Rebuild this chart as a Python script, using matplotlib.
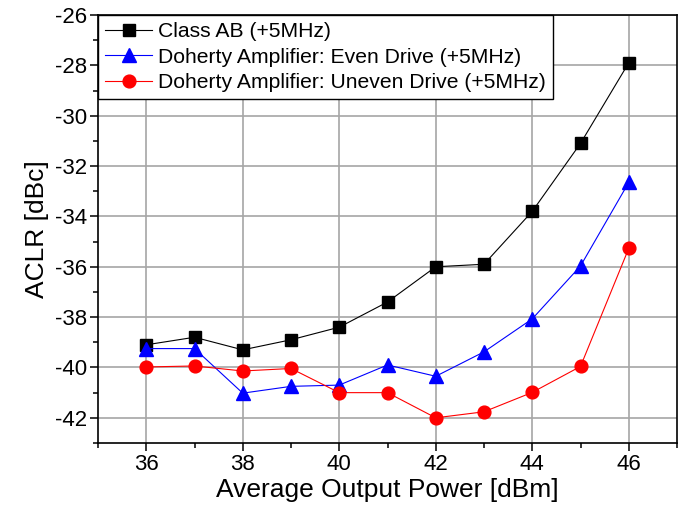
import matplotlib
matplotlib.use("Agg")
import matplotlib.pyplot as plt
from matplotlib.ticker import MultipleLocator

plt.rcParams['font.family'] = ['Liberation Sans', 'DejaVu Sans']
plt.rcParams['axes.unicode_minus'] = False

power = [36, 37, 38, 39, 40, 41, 42, 43, 44, 45, 46]
class_ab = [-39.1, -38.8, -39.3, -38.9, -38.4, -37.4, -36.0, -35.9, -33.8, -31.1, -27.9]
doherty_even = [-39.25, -39.25, -41.02, -40.75, -40.7, -39.9, -40.35, -39.38, -38.07, -35.97, -32.65]
doherty_uneven = [-39.98, -39.94, -40.14, -40.04, -41.0, -41.0, -42.0, -41.76, -40.99, -39.96, -35.27]

labels = ["Class AB (+5MHz)",
          "Doherty Amplifier: Even Drive (+5MHz)",
          "Doherty Amplifier: Uneven Drive (+5MHz)"]

fig = plt.figure(figsize=(6.82, 5.14), dpi=100)
ax = fig.add_axes([98/682, 71/514, 579/682, 428/514])

ax.plot(power, class_ab, color='black', lw=0.8, marker='s', ms=8.5, label=labels[0], zorder=3)
ax.plot(power, doherty_even, color='blue', lw=0.8, marker='^', ms=10.5, label=labels[1], zorder=3)
ax.plot(power, doherty_uneven, color='red', lw=0.8, marker='o', ms=9.2, label=labels[2], zorder=3)

ax.set_xlim(35, 47)
ax.set_ylim(-43, -26)
ax.xaxis.set_major_locator(MultipleLocator(2))
ax.xaxis.set_minor_locator(MultipleLocator(1))
ax.yaxis.set_major_locator(MultipleLocator(2))
ax.yaxis.set_minor_locator(MultipleLocator(1))
ax.set_xticks([36, 38, 40, 42, 44, 46])
ax.grid(True, which='major', color='#a6a6a6', lw=1.2, zorder=0)
ax.set_axisbelow(True)

ax.tick_params(axis='both', which='major', direction='out', length=6, width=1.1,
               labelsize=16, pad=2, top=False, right=False)
ax.tick_params(axis='both', which='minor', direction='out', length=3.5, width=1.1,
               top=False, right=False)
for s in ax.spines.values():
    s.set_linewidth(1.2)

ax.set_xlabel("Average Output Power [dBm]", fontsize=19, labelpad=2)
ax.set_ylabel("ACLR [dBc]", fontsize=19, labelpad=4)

leg = ax.legend(loc='upper left', fontsize=15.2, borderaxespad=0, fancybox=False,
                edgecolor='black', framealpha=1, handlelength=2.2, handletextpad=0.3,
                labelspacing=0.3, borderpad=0.35)
leg.get_frame().set_linewidth(1.0)

fig.savefig("out.png", dpi=100)
